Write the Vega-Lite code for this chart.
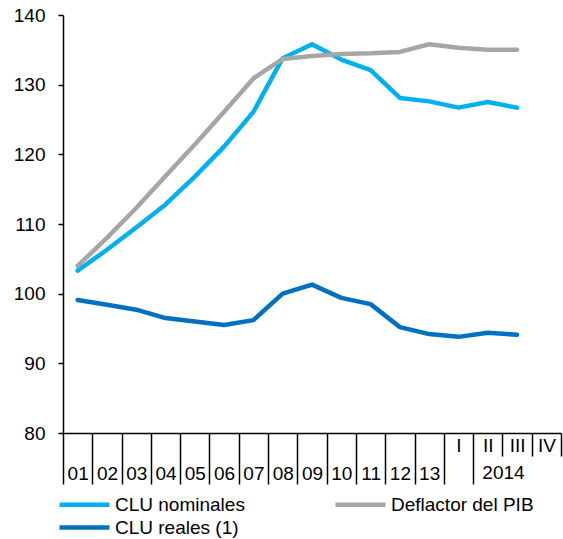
{
  "$schema": "https://vega.github.io/schema/vega-lite/v6.json",
  "width": 498,
  "height": 418,
  "autosize": {"type": "none"},
  "padding": {"left": 63, "top": 15, "right": 2, "bottom": 106},
  "config": {
    "view": {"stroke": null},
    "font": "Liberation Sans",
    "axis": {"labelFont": "Liberation Sans", "titleFont": "Liberation Sans", "labelColor": "#000000", "titleColor": "#000000"}
  },
  "data": {
    "values": [
      {"period": "01", "series": "CLU nominales", "value": 103.3},
      {"period": "02", "series": "CLU nominales", "value": 106.3},
      {"period": "03", "series": "CLU nominales", "value": 109.5},
      {"period": "04", "series": "CLU nominales", "value": 112.8},
      {"period": "05", "series": "CLU nominales", "value": 116.8},
      {"period": "06", "series": "CLU nominales", "value": 121.1},
      {"period": "07", "series": "CLU nominales", "value": 126.1},
      {"period": "08", "series": "CLU nominales", "value": 133.8},
      {"period": "09", "series": "CLU nominales", "value": 135.8},
      {"period": "10", "series": "CLU nominales", "value": 133.6},
      {"period": "11", "series": "CLU nominales", "value": 132.1},
      {"period": "12", "series": "CLU nominales", "value": 128.1},
      {"period": "13", "series": "CLU nominales", "value": 127.6},
      {"period": "I", "series": "CLU nominales", "value": 126.7},
      {"period": "II", "series": "CLU nominales", "value": 127.5},
      {"period": "III", "series": "CLU nominales", "value": 126.7},
      {"period": "01", "series": "Deflactor del PIB", "value": 104.0},
      {"period": "02", "series": "Deflactor del PIB", "value": 108.0},
      {"period": "03", "series": "Deflactor del PIB", "value": 112.3},
      {"period": "04", "series": "Deflactor del PIB", "value": 116.9},
      {"period": "05", "series": "Deflactor del PIB", "value": 121.4},
      {"period": "06", "series": "Deflactor del PIB", "value": 126.1},
      {"period": "07", "series": "Deflactor del PIB", "value": 130.9},
      {"period": "08", "series": "Deflactor del PIB", "value": 133.7},
      {"period": "09", "series": "Deflactor del PIB", "value": 134.1},
      {"period": "10", "series": "Deflactor del PIB", "value": 134.4},
      {"period": "11", "series": "Deflactor del PIB", "value": 134.5},
      {"period": "12", "series": "Deflactor del PIB", "value": 134.7},
      {"period": "13", "series": "Deflactor del PIB", "value": 135.8},
      {"period": "I", "series": "Deflactor del PIB", "value": 135.3},
      {"period": "II", "series": "Deflactor del PIB", "value": 135.0},
      {"period": "III", "series": "Deflactor del PIB", "value": 135.0},
      {"period": "01", "series": "CLU reales (1)", "value": 99.1},
      {"period": "02", "series": "CLU reales (1)", "value": 98.4},
      {"period": "03", "series": "CLU reales (1)", "value": 97.7},
      {"period": "04", "series": "CLU reales (1)", "value": 96.5},
      {"period": "05", "series": "CLU reales (1)", "value": 96.0},
      {"period": "06", "series": "CLU reales (1)", "value": 95.5},
      {"period": "07", "series": "CLU reales (1)", "value": 96.2},
      {"period": "08", "series": "CLU reales (1)", "value": 100.0},
      {"period": "09", "series": "CLU reales (1)", "value": 101.3},
      {"period": "10", "series": "CLU reales (1)", "value": 99.4},
      {"period": "11", "series": "CLU reales (1)", "value": 98.5},
      {"period": "12", "series": "CLU reales (1)", "value": 95.2},
      {"period": "13", "series": "CLU reales (1)", "value": 94.2},
      {"period": "I", "series": "CLU reales (1)", "value": 93.8},
      {"period": "II", "series": "CLU reales (1)", "value": 94.4},
      {"period": "III", "series": "CLU reales (1)", "value": 94.1}
    ]
  },
  "mark": {"type": "line", "strokeWidth": 4.5, "strokeCap": "round", "strokeJoin": "round"},
  "encoding": {
    "x": {
      "field": "period",
      "type": "nominal",
      "sort": null,
      "scale": {
        "type": "band",
        "paddingInner": 0,
        "paddingOuter": 0,
        "domain": ["01", "02", "03", "04", "05", "06", "07", "08", "09", "10", "11", "12", "13", "I", "II", "III", "IV"]
      },
      "axis": {
        "title": "2014",
        "titleX": 440,
        "titleY": 39.7,
        "titleAlign": "center",
        "titleBaseline": "middle",
        "titleAngle": 0,
        "titleFontSize": 19,
        "titleFontWeight": "normal",
        "labelAngle": 0,
        "labelFontSize": 19,
        "labelBaseline": "middle",
        "labelAlign": "center",
        "labelPadding": {"condition": {"test": "datum.value === 'I'", "value": -39}, "value": -11},
        "tickBand": "extent",
        "tickSize": {"condition": {"test": "indexof(['II','III','IV'], datum.value) >= 0", "value": 23}, "value": 51},
        "tickColor": "#000000",
        "tickWidth": 1.5,
        "domainColor": "#000000",
        "domainWidth": 1.5,
        "grid": false
      }
    },
    "y": {
      "field": "value",
      "type": "quantitative",
      "scale": {"domain": [80, 140], "nice": false, "zero": false},
      "axis": {
        "title": null,
        "values": [80, 90, 100, 110, 120, 130, 140],
        "labelFontSize": 19,
        "labelPadding": 13,
        "tickSize": 5,
        "tickColor": "#000000",
        "tickWidth": 1.5,
        "domainColor": "#000000",
        "domainWidth": 1.5,
        "grid": false
      }
    },
    "color": {
      "field": "series",
      "type": "nominal",
      "sort": ["CLU nominales", "Deflactor del PIB", "CLU reales (1)"],
      "scale": {
        "domain": ["CLU nominales", "Deflactor del PIB", "CLU reales (1)"],
        "range": ["#00B0F0", "#A6A6A6", "#0070C0"]
      },
      "legend": {
        "title": null,
        "orient": "none",
        "direction": "horizontal",
        "legendX": 24,
        "legendY": 477,
        "values": ["CLU nominales", "Deflactor del PIB", "CLU reales (1)"],
        "columns": 2,
        "columnPadding": 81,
        "rowPadding": -3,
        "symbolType": "M-4,0H1",
        "symbolSize": 400,
        "symbolStrokeWidth": 4.5,
        "symbolFillColor": "transparent",
        "labelFontSize": 19,
        "labelFont": "Liberation Sans",
        "labelColor": "#000000",
        "labelOffset": 3,
        "labelLimit": 300
      }
    }
  }
}
